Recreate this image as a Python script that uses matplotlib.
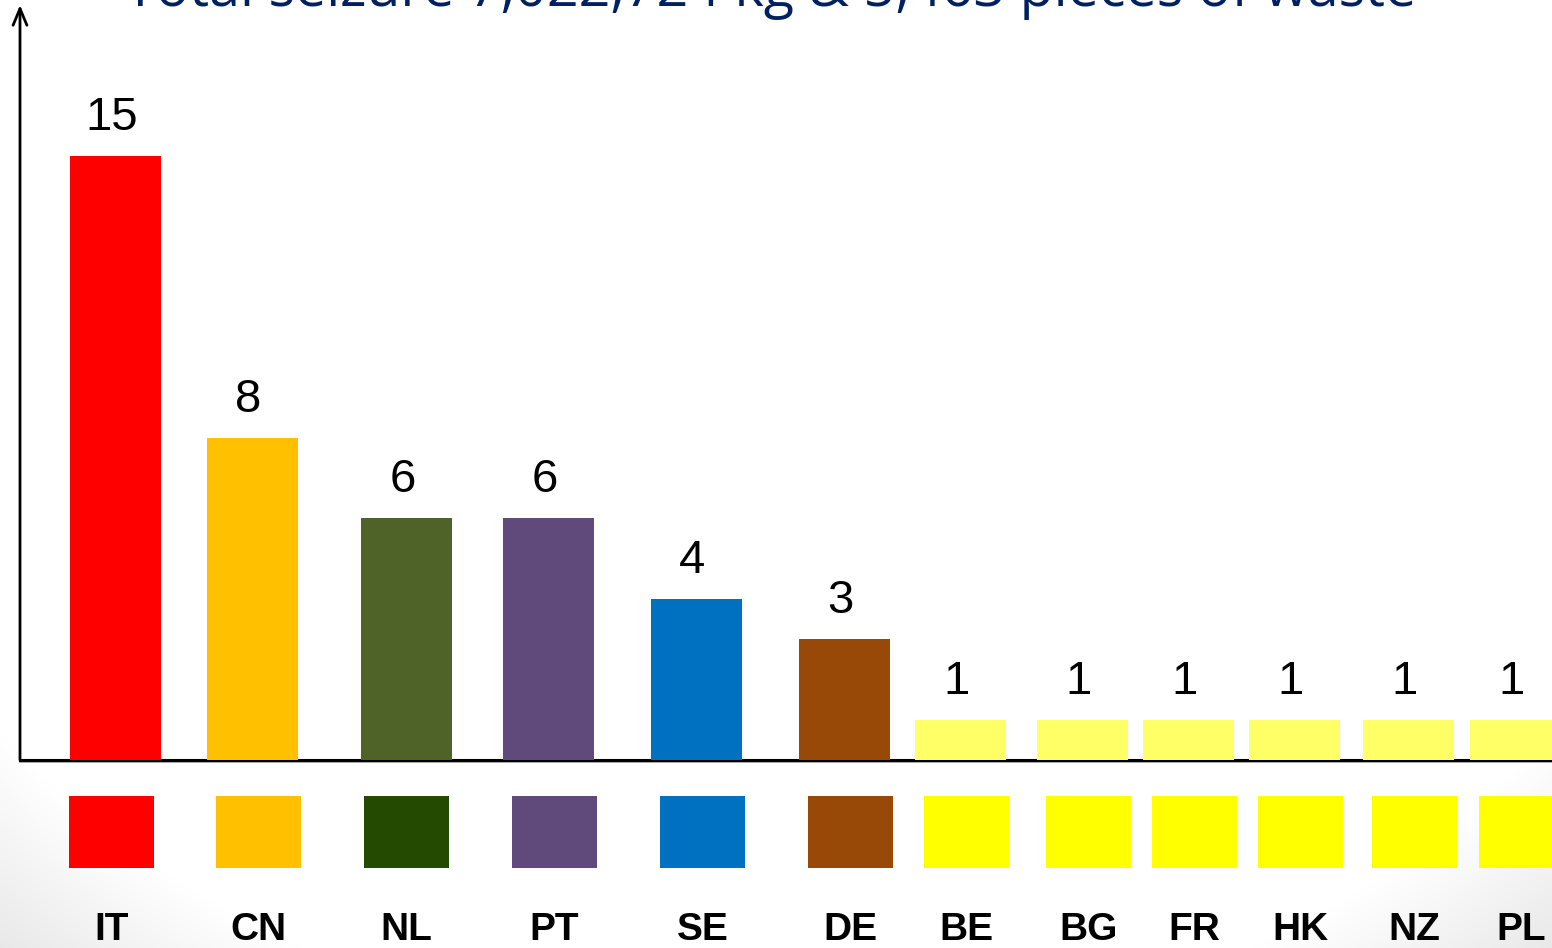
import numpy as np
import matplotlib
matplotlib.use("Agg")
import matplotlib.pyplot as plt

# ---- data ----
countries = ["IT", "CN", "NL", "PT", "SE", "DE", "BE", "BG", "FR", "HK", "NZ", "PL"]
cases = [15, 8, 6, 6, 4, 3, 1, 1, 1, 1, 1, 1]
title = "Total seizure 7,022,724 kg & 5,463 pieces of waste"

# ---- styles / layout ----
bar_colors = ["#FF0000", "#FFC000", "#4F6228", "#604A7B", "#0070C0", "#984807",
              "#FFFF66", "#FFFF66", "#FFFF66", "#FFFF66", "#FFFF66", "#FFFF66"]
swatch_colors = ["#FF0000", "#FFC000", "#234A00", "#604A7B", "#0070C0", "#984807",
                 "#FFFF00", "#FFFF00", "#FFFF00", "#FFFF00", "#FFFF00", "#FFFF00"]
bar_x = [1.155, 2.525, 4.065, 5.485, 6.965, 8.445, 9.605, 10.825, 11.885, 12.945, 14.085, 15.155]
swatch_x = [1.115, 2.585, 4.065, 5.545, 7.025, 8.505, 9.665, 10.885, 11.945, 13.005, 14.145, 15.215]

W, H = 1552, 948
px_per_unit = 40.3
base_px = 760  # baseline, from top

fig = plt.figure(figsize=(W / 100, H / 100), dpi=100)

# background: white with soft grey at bottom corners
bg = fig.add_axes([0, 0, 1, 1], zorder=-10)
yy, xx = np.mgrid[0:H, 0:W]
r = np.sqrt(((xx - 776) / 830.0) ** 2 + ((yy - 350) / 620.0) ** 2)
g = 1 - 0.11 * np.clip((r - 1.12) / 0.28, 0, 1)
bg.imshow(np.dstack([g, g, g]), aspect="auto", extent=[0, W, H, 0])
bg.set_axis_off()

# main axes
left = 20 / W
bottom = (H - base_px) / H
top_px = 5
ax = fig.add_axes([left, bottom, 1 - left, (base_px - top_px) / H])
ax.patch.set_alpha(0)
ax.set_xlim(0.2, W / 100)
ax.set_ylim(0, (base_px - top_px) / px_per_unit)
ax.bar(bar_x, cases, width=0.91, color=bar_colors, zorder=3)
for x, v in zip(bar_x, cases):
    ax.annotate(str(v), (x, v), xytext=(-3, 26 * 0.72), textcoords="offset points",
                ha="center", va="baseline", fontsize=34, family="Liberation Sans",
                color="black", annotation_clip=False)
for s in ["top", "right", "left"]:
    ax.spines[s].set_visible(False)
ax.spines["bottom"].set_linewidth(2.2)
ax.spines["bottom"].set_color("black")
ax.set_xticks([])
ax.set_yticks([])
# shadow under x axis
ax.axhline(-0.045, color="#A0A0A0", lw=1.2, zorder=1, clip_on=False)
# y axis with open arrow
ax.annotate("", xy=(0, 1.0), xytext=(0, 0), xycoords="axes fraction",
            arrowprops=dict(arrowstyle="->,head_length=1.2,head_width=0.5", lw=2, color="black",
                            shrinkA=0, shrinkB=0))

# swatch row with country labels
ax2 = fig.add_axes([0, (H - 868) / H, 1, 72 / H])
ax2.patch.set_alpha(0)
ax2.set_xlim(0, W / 100)
ax2.set_ylim(0, 1)
ax2.bar(swatch_x, [1] * len(countries), width=0.85, color=swatch_colors)
ax2.set_xticks(swatch_x)
ax2.set_xticklabels(countries, fontsize=28, fontweight="bold", family="Liberation Sans")
ax2.tick_params(axis="x", length=0, pad=32)
ax2.set_yticks([])
for s in ax2.spines.values():
    s.set_visible(False)

# title, partly above the top edge as in the source slide
t = fig.text(125 / W, 1 - 6 / H, title, fontsize=40, family="Open Sans",
             color="#002060", ha="left", va="baseline")
fig.canvas.draw()
bb = t.get_window_extent(fig.canvas.get_renderer())
t.set_fontsize(40 * 1290 / bb.width)

fig.savefig("out.png", dpi=100)
